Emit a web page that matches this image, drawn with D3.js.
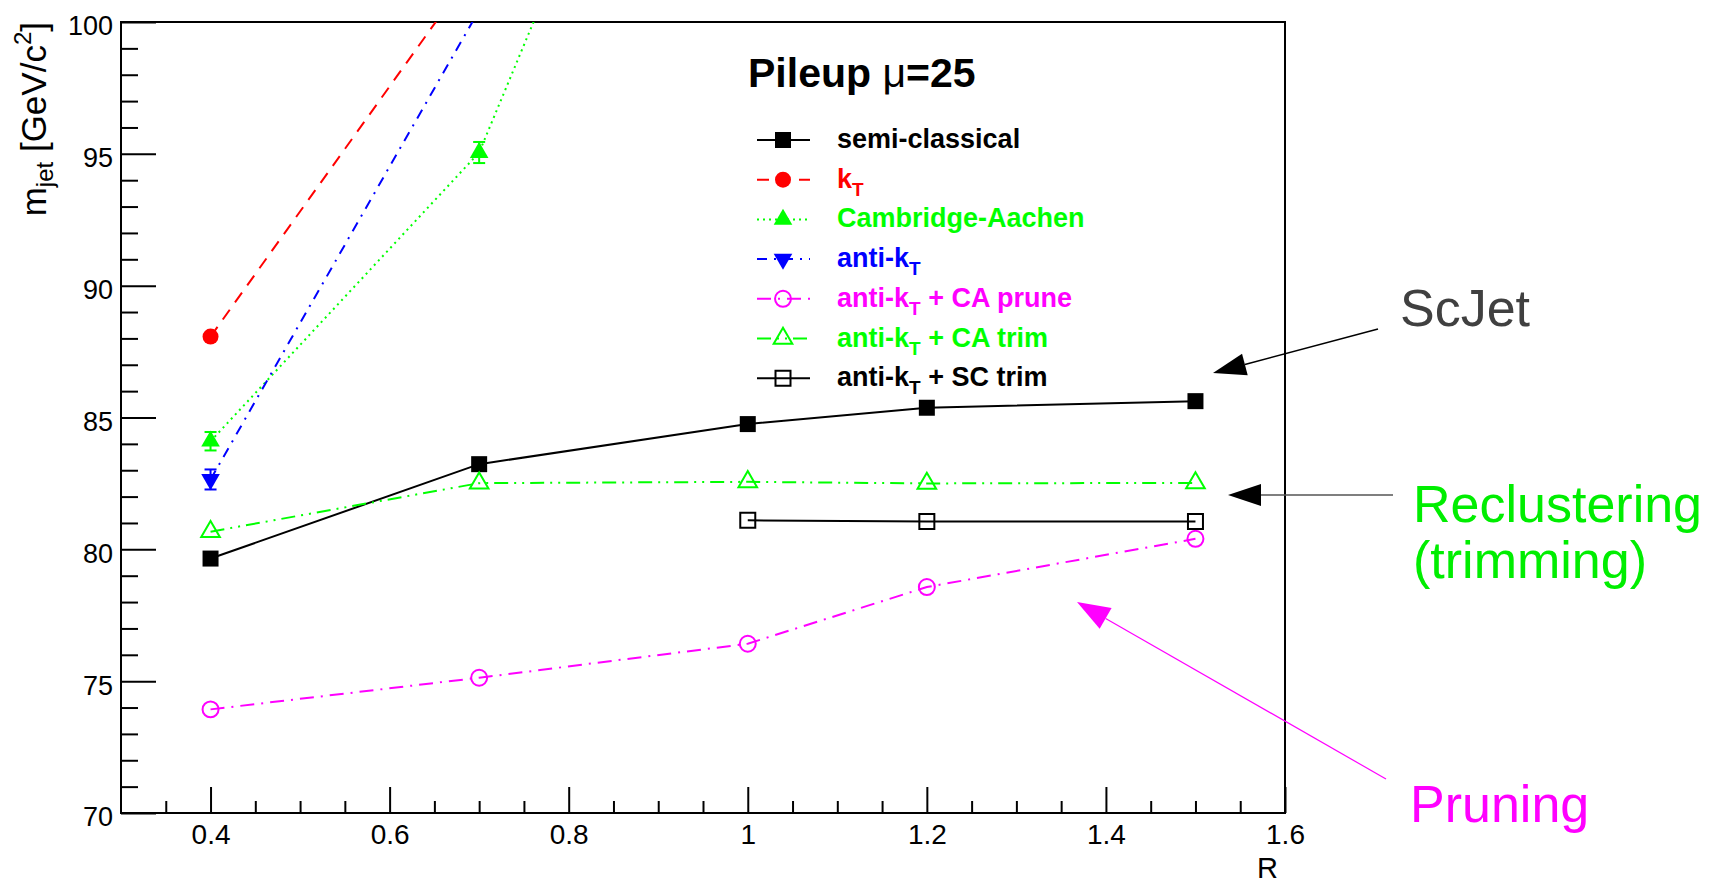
<!DOCTYPE html>
<html>
<head>
<meta charset="utf-8">
<script src="https://cdn.jsdelivr.net/npm/d3@7"></script>
<style>
  body { margin: 0; background: #fff; }
  svg text { font-family: "Liberation Sans", Arial, sans-serif; }
</style>
</head>
<body>
<script>
// values (R = jet radius, m_jet in GeV/c^2)
var rAll = [0.4, 0.7, 1.0, 1.2, 1.5];
var semiClassical = [79.65, 83.23, 84.75, 85.37, 85.62];
var ktR = [0.4, 0.7];
var kt = [88.07, 102.3];                  // 0.7 point lies above the frame
var caR = [0.4, 0.7, 1.0];
var cambridgeAachen = [84.1, 95.05, 119.5];
var caErr = [0.35, 0.4, 0];
var antiKtR = [0.4, 0.7];
var antiKt = [82.65, 100.45];
var antiKtErr = [0.38, 0];
var antiKtPrune = [73.93, 75.13, 76.42, 78.57, 80.4];
var antiKtCaTrim = [80.67, 82.51, 82.56, 82.5, 82.52];
var scTrimR = [1.0, 1.2, 1.5];
var antiKtScTrim = [81.1, 81.06, 81.06];

var xTicks = [0.4, 0.6, 0.8, 1.0, 1.2, 1.4, 1.6];
var yTicks = [70, 75, 80, 85, 90, 95, 100];

function initialize() {
	generateChart();
}

function generateChart() {
	var width = 1714, height = 887;
	var left = 121, right = 1285, top = 22, bottom = 813;

	var svg = d3.select("body").append("svg")
		.attr("width", width)
		.attr("height", height);

	var x = d3.scaleLinear().domain([0.3, 1.6]).range([left, right]);
	var y = d3.scaleLinear().domain([70, 100]).range([bottom, top]);

	svg.append("clipPath").attr("id", "plotclip")
		.append("rect")
		.attr("x", left).attr("y", top)
		.attr("width", right - left).attr("height", bottom - top);

	// ticks (ROOT style: inside the frame, only left and bottom)
	var minorY = d3.range(70, 100.5, 1).filter(function(v) { return v % 5 !== 0; });
	var minorX = d3.range(0.35, 1.6, 0.05).filter(function(v) {
		return Math.abs(v * 5 - Math.round(v * 5)) > 0.01;
	});

	var yAxis = svg.append("g").attr("transform", "translate(" + left + ",0)")
		.call(d3.axisLeft(y).tickValues(yTicks).tickSize(-35).tickPadding(8)
			.tickFormat(d3.format("d")));
	svg.append("g").attr("transform", "translate(" + left + ",0)")
		.call(d3.axisLeft(y).tickValues(minorY).tickSize(-17).tickFormat(""));

	var xAxis = svg.append("g").attr("transform", "translate(0," + bottom + ")")
		.call(d3.axisBottom(x).tickValues(xTicks).tickSize(-26).tickPadding(11)
			.tickFormat(d3.format("~g")));
	svg.append("g").attr("transform", "translate(0," + bottom + ")")
		.call(d3.axisBottom(x).tickValues(minorX).tickSize(-12).tickFormat(""));

	svg.selectAll(".domain").remove();
	svg.selectAll(".tick line").attr("stroke", "#000").attr("stroke-width", 2);
	yAxis.selectAll("text").attr("font-size", 27).attr("dy", "0.48em").attr("fill", "#000")
		.style("font-family", "Liberation Sans, Arial, sans-serif");
	xAxis.selectAll("text").attr("font-size", 28).attr("fill", "#000")
		.style("font-family", "Liberation Sans, Arial, sans-serif");

	// frame
	svg.append("rect")
		.attr("x", left).attr("y", top)
		.attr("width", right - left).attr("height", bottom - top)
		.attr("fill", "none").attr("stroke", "#000").attr("stroke-width", 2);

	// axis titles
	svg.append("text")
		.attr("x", 1278).attr("y", 878)
		.attr("text-anchor", "end").attr("font-size", 29)
		.text("R");

	var yt = svg.append("text")
		.attr("transform", "translate(46," + top + ") rotate(-90)")
		.attr("text-anchor", "end").attr("font-size", 35);
	yt.append("tspan").text("m");
	yt.append("tspan").attr("font-size", 24).attr("dy", 7).text("jet");
	yt.append("tspan").attr("dy", -7).text(" [GeV/c");
	yt.append("tspan").attr("font-size", 24).attr("dy", -15).text("2");
	yt.append("tspan").attr("dy", 15).text("]");

	// series table
	var series = [
		{ name: ["semi-classical"], r: rAll, v: semiClassical, color: "#000000", dash: null, sym: d3.symbolSquare, size: 256, fill: true },
		{ name: ["k", "T"], r: ktR, v: kt, color: "#ff0000", dash: "12,9", sym: d3.symbolCircle, size: 200, fill: true },
		{ name: ["Cambridge-Aachen"], r: caR, v: cambridgeAachen, err: caErr, color: "#00ff00", dash: "2,4", sym: d3.symbolTriangle, size: 150, fill: true },
		{ name: ["anti-k", "T"], r: antiKtR, v: antiKt, err: antiKtErr, color: "#0000ff", dash: "10,7,2,7", sym: d3.symbolTriangle, size: 150, fill: true, down: true },
		{ name: ["anti-k", "T", " + CA prune"], r: rAll, v: antiKtPrune, color: "#ff00ff", dash: "14,7,2,7", sym: d3.symbolCircle, size: 200, fill: false },
		{ name: ["anti-k", "T", " + CA trim"], r: rAll, v: antiKtCaTrim, color: "#00ff00", dash: "14,6,2,6,2,6", sym: d3.symbolTriangle, size: 150, fill: false },
		{ name: ["anti-k", "T", " + SC trim"], r: scTrimR, v: antiKtScTrim, color: "#000000", dash: null, sym: d3.symbolSquare, size: 225, fill: false }
	];

	var plot = svg.append("g").attr("clip-path", "url(#plotclip)");
	var line = d3.line().x(function(d) { return x(d[0]); }).y(function(d) { return y(d[1]); });

	function drawMarker(g, s, cx, cy) {
		g.append("path")
			.attr("d", d3.symbol().type(s.sym).size(s.size)())
			.attr("transform", "translate(" + cx + "," + cy + ")" + (s.down ? " rotate(180)" : ""))
			.attr("fill", s.fill ? s.color : "none")
			.attr("stroke", s.color)
			.attr("stroke-width", s.fill ? 0 : 2);
	}

	series.forEach(function(s) {
		var pts = s.r.map(function(r, i) { return [r, s.v[i]]; });
		plot.append("path")
			.attr("d", line(pts))
			.attr("fill", "none")
			.attr("stroke", s.color)
			.attr("stroke-width", 2)
			.attr("stroke-dasharray", s.dash);
		if (s.err) {
			pts.forEach(function(p, i) {
				if (!s.err[i]) return;
				var x0 = x(p[0]), y1 = y(p[1] + s.err[i]), y2 = y(p[1] - s.err[i]);
				plot.append("line").attr("x1", x0).attr("x2", x0).attr("y1", y1).attr("y2", y2)
					.attr("stroke", s.color).attr("stroke-width", 2);
				[y1, y2].forEach(function(yy) {
					plot.append("line").attr("x1", x0 - 6).attr("x2", x0 + 6).attr("y1", yy).attr("y2", yy)
						.attr("stroke", s.color).attr("stroke-width", 2);
				});
			});
		}
		pts.forEach(function(p) {
			if (p[1] <= 100) drawMarker(plot, s, x(p[0]), y(p[1]));
		});
	});

	// legend
	var title = svg.append("text")
		.attr("x", 748).attr("y", 87)
		.attr("font-size", 41).attr("font-weight", "bold");
	title.append("tspan").text("Pileup ");
	title.append("tspan").attr("font-weight", "normal").text("\u03bc");
	title.append("tspan").text("=25");

	series.forEach(function(s, i) {
		var cy = 140 + i * 39.7;
		var g = svg.append("g");
		g.append("line")
			.attr("x1", 757).attr("x2", 810).attr("y1", cy).attr("y2", cy)
			.attr("stroke", s.color).attr("stroke-width", 2)
			.attr("stroke-dasharray", s.dash);
		drawMarker(g, s, 783, cy);
		var t = g.append("text")
			.attr("x", 837).attr("y", cy + 8)
			.attr("font-size", 27).attr("font-weight", "bold")
			.attr("fill", s.color);
		t.append("tspan").text(s.name[0]);
		if (s.name.length > 1) {
			t.append("tspan").attr("font-size", 19).attr("dy", 8).text(s.name[1]);
			if (s.name.length > 2) t.append("tspan").attr("dy", -8).text(s.name[2]);
		}
	});

	// annotations
	function arrow(x1, y1, x2, y2, color, lineColor, w, hl, hw) {
		var a = Math.atan2(y2 - y1, x2 - x1);
		var bx = x2 - hl * Math.cos(a), by = y2 - hl * Math.sin(a);
		svg.append("line")
			.attr("x1", x1).attr("y1", y1).attr("x2", bx).attr("y2", by)
			.attr("stroke", lineColor).attr("stroke-width", w);
		var px = -Math.sin(a) * hw, py = Math.cos(a) * hw;
		svg.append("path")
			.attr("d", "M" + x2 + "," + y2 + "L" + (bx + px) + "," + (by + py) +
				"L" + (bx - px) + "," + (by - py) + "Z")
			.attr("fill", color);
	}
	arrow(1378, 329, 1213, 373, "#000", "#000", 1.5, 33, 11);
	arrow(1393, 495, 1228, 495, "#000", "#555", 1.5, 33, 11);
	arrow(1386, 779, 1077, 602, "#ff00ff", "#ff00ff", 1.2, 33, 12);

	svg.append("text").attr("x", 1400).attr("y", 326)
		.attr("font-size", 52).attr("fill", "#404040").text("ScJet");
	svg.append("text").attr("x", 1413).attr("y", 522)
		.attr("font-size", 52).attr("fill", "#00ee00").text("Reclustering");
	svg.append("text").attr("x", 1413).attr("y", 578)
		.attr("font-size", 52).attr("fill", "#00ee00").text("(trimming)");
	svg.append("text").attr("x", 1410).attr("y", 822)
		.attr("font-size", 52).attr("fill", "#ff00ff").text("Pruning");
}

initialize();
</script>
</body>
</html>
